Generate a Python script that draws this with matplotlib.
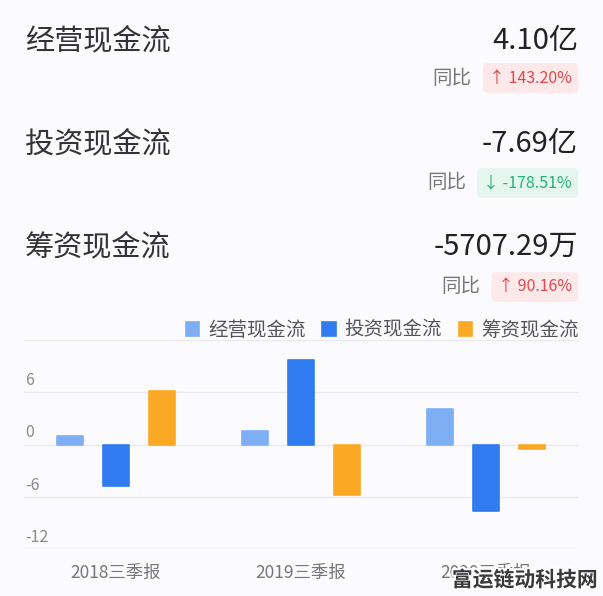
import matplotlib
matplotlib.use("Agg")
import matplotlib.pyplot as plt
import matplotlib.patheffects as pe
import numpy as np

plt.rcParams['font.family'] = ['Noto Sans CJK SC', 'DejaVu Sans']

# ---- data ----
categories = ["2018三季报", "2019三季报", "2020三季报"]
series_names = ["经营现金流", "投资现金流", "筹资现金流"]
op_values = [1.0, 1.6, 4.10]
inv_values = [-4.8, 9.7, -7.69]
fin_values = [6.2, -5.75, -0.57]
y_ticks = [-12, -6, 0, 6]

summary_titles = ["经营现金流", "投资现金流", "筹资现金流"]
summary_values = ["4.10亿", "-7.69亿", "-5707.29万"]
summary_changes = ["↑ 143.20%", "↓ -178.51%", "↑ 90.16%"]
summary_up = [True, False, True]

colors = ["#7eaef4", "#2f7bef", "#fba925"]

W, H = 603, 596
BG = "#fbfbfd"
fig = plt.figure(figsize=(W / 100, H / 100), dpi=100, facecolor=BG)

def fx(px):
    return px / W

def fy(py):
    return 1 - py / H

# ---- summary header ----
rows_y = [41, 144, 247]
badge_y = [78, 183, 287]
for i in range(3):
    fig.text(fx(25), fy(rows_y[i]), summary_titles[i], fontsize=21, color="#333333",
             ha="left", va="center")
    fig.text(fx(578), fy(rows_y[i]), summary_values[i], fontsize=21, color="#222222",
             ha="right", va="center")
    if summary_up[i]:
        tc, bc = "#e0474c", "#fde9ea"
    else:
        tc, bc = "#27b27a", "#e5f6ee"
    t = fig.text(fx(572), fy(badge_y[i]), summary_changes[i], fontsize=11.5, color=tc,
                 ha="right", va="center",
                 bbox=dict(boxstyle="round,pad=0.4,rounding_size=0.3", fc=bc, ec="none"))
    fig.canvas.draw()
    bb = t.get_bbox_patch().get_window_extent()
    fig.text((bb.x0 - 11) / W, fy(badge_y[i]), "同比", fontsize=14, color="#777777",
             ha="right", va="center")

# ---- chart ----
ax = fig.add_axes([23.5 / W, 1 - 549 / H, 555 / W, (549 - 340) / H])
ax.set_facecolor(BG)
x = np.arange(len(categories))
width = 0.14
offset = 0.249
for j, (vals, c) in enumerate(zip([op_values, inv_values, fin_values], colors)):
    ax.bar(x + (j - 1) * offset, vals, width, color=c, edgecolor=c, linewidth=1.2,
           joinstyle="round", zorder=3, label=series_names[j])

ax.set_xlim(-0.5, 2.5)
ax.set_ylim(-12, 12)
for v in [-12, -6, 0, 6, 12]:
    ax.axhline(v, color="#ebebef", lw=1.0, zorder=1)
for s in ax.spines.values():
    s.set_visible(False)
ax.set_yticks([])
ax.set_xticks(x)
ax.set_xticklabels(categories, fontsize=12.5, color="#777777")
ax.tick_params(axis="x", length=0, pad=11)

for v in y_ticks:
    ax.text(0.003, v + 0.35, str(v), transform=ax.get_yaxis_transform(),
            fontsize=11.5, color="#8a8a8a", ha="left", va="bottom")

leg = ax.legend(loc="center right", bbox_to_anchor=(1.0, 1 + 10 / 209), ncol=3, frameon=False,
                fontsize=14, handlelength=0.7, handleheight=0.7, handletextpad=0.45,
                columnspacing=0.85, borderaxespad=0, borderpad=0, labelcolor="#555555")

# watermark
fig.text(fx(598), fy(580), "富运链动科技网", fontsize=15, fontweight="bold", color="#3a3a3a",
         ha="right", va="center", zorder=10,
         path_effects=[pe.withStroke(linewidth=3, foreground="white")])

fig.savefig("out.png", dpi=100, facecolor=BG)
